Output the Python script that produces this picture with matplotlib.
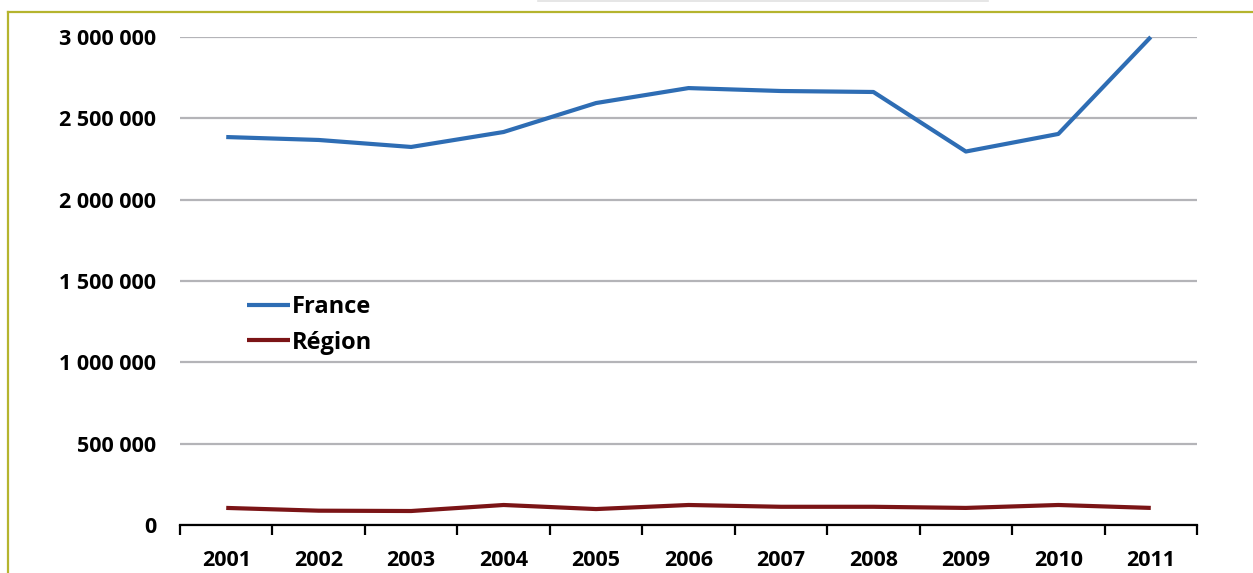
import matplotlib.pyplot as plt
from matplotlib.lines import Line2D
from matplotlib.ticker import FuncFormatter

years = ["2001", "2002", "2003", "2004", "2005", "2006", "2007", "2008", "2009", "2010", "2011"]
france = [2385000, 2367000, 2324000, 2416000, 2594000, 2686000, 2668000, 2662000, 2296000, 2404000, 3000000]
region = [105000, 88000, 86000, 123000, 98000, 123000, 112000, 112000, 105000, 123000, 105000]

plt.rcParams['font.family'] = ['Open Sans', 'DejaVu Sans']
plt.rcParams['font.weight'] = 'bold'

W, H = 1253, 573
fig = plt.figure(figsize=(W / 100, H / 100), dpi=100)
ax = fig.add_axes([180 / W, 1 - 525 / H, (1197 - 180) / W, (525 - 37) / H])

x = list(range(len(years)))
ax.plot(x, france, color='#2e6db4', lw=3, label='France', solid_capstyle='butt', clip_on=False)
ax.plot(x, region, color='#7b1416', lw=3, label='Région', solid_capstyle='butt')

ax.set_xlim(-0.5, len(years) - 0.5)
ax.set_ylim(0, 3000000)
ax.set_yticks(range(0, 3000001, 500000))
ax.yaxis.set_major_formatter(FuncFormatter(lambda v, p: f"{int(v):,}".replace(",", " ")))
ax.grid(axis='y', color='#b4b4b8', lw=1.6)
ax.set_axisbelow(True)

ax.set_xticks([i - 0.5 for i in range(len(years) + 1)])
ax.set_xticklabels([])
ax.set_xticks(x, minor=True)
ax.set_xticklabels(years, minor=True, fontsize=15.5, fontweight='bold')
ax.tick_params(axis='x', which='minor', length=0, pad=18)
ax.tick_params(axis='x', which='major', length=7, width=1.6, color='black', direction='out')
ax.tick_params(axis='y', length=0, pad=17, labelsize=15.5)
for t in ax.get_yticklabels():
    t.set_fontweight('bold')

for s in ['left', 'right', 'top']:
    ax.spines[s].set_visible(False)
ax.spines['bottom'].set_linewidth(1.6)
ax.spines['bottom'].set_color('black')

ax.legend(loc='upper left', bbox_to_anchor=(0.045, 0.515), frameon=False,
          handlelength=1.8, handletextpad=0.1, labelspacing=0.5,
          prop={'size': 17, 'weight': 'bold'})

# outer frame
olive = '#b5b42e'
fig.add_artist(Line2D([8 / W, 8 / W], [0, 1 - 12 / H], color=olive, lw=1.6, transform=fig.transFigure))
fig.add_artist(Line2D([8 / W, 1], [1 - 12 / H, 1 - 12 / H], color=olive, lw=1.6, transform=fig.transFigure))
fig.add_artist(Line2D([538 / W, 988 / W], [1 - 1 / H, 1 - 1 / H], color='#e2e2e2', lw=1.2, transform=fig.transFigure))

fig.savefig('out.png', dpi=100)
